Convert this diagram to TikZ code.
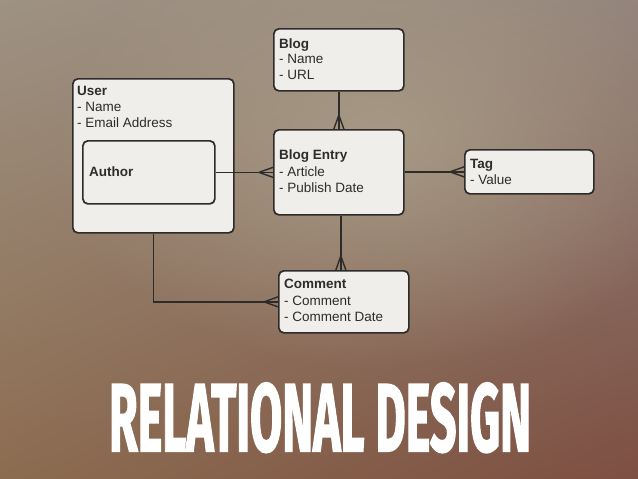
\documentclass[tikz,border=0pt]{standalone}
\usepackage{fontspec}
\setmainfont{Liberation Sans}
\newfontfamily\titlefont{Fira Sans}
\usetikzlibrary{fadings,calc,shadings}
\definecolor{bgUL}{HTML}{9E9283}
\definecolor{bgUR}{HTML}{93847C}
\definecolor{bgLL}{HTML}{8C6C50}
\definecolor{bgLR}{HTML}{7D4F42}
\definecolor{bglight}{HTML}{ACA08A}
\definecolor{boxfill}{HTML}{F0EEEB}
\definecolor{ink}{HTML}{2E2C2A}
\tikzfading[name=softspot, inner color=transparent!0, outer color=transparent!100]
\begin{document}
\begin{tikzpicture}[x=1pt,y=-1pt,
  ebox/.style={draw=ink, line width=1.7pt, fill=boxfill, rounded corners=5pt, inner sep=0pt, anchor=north west},
  etitle/.style={anchor=base west, inner sep=0pt, text=ink, font=\fontsize{13.5}{16}\selectfont\bfseries},
  eattr/.style={anchor=base west, inner sep=0pt, text=ink, font=\fontsize{13.5}{16}\selectfont},
  link/.style={draw=ink, line width=1.4pt},
  crowL/.pic={\draw[link] (-14,0) -- (0,-5) (-14,0) -- (0,5);},
  crowU/.pic={\draw[link] (0,-14) -- (-5,0) (0,-14) -- (5,0);}
]
\useasboundingbox (0,0) rectangle (638,479);
\shade[upper left=bgUL, upper right=bgUR, lower left=bgLL, lower right=bgLR] (0,0) rectangle (638,479);
\fill[bglight, path fading=softspot, opacity=0.8] (380,140) ellipse (330 and 230);

% boxes
\node[ebox, minimum width=130pt, minimum height=62pt] (blog) at (273,28) {};
\node[ebox, minimum width=161pt, minimum height=154pt] (user) at (72,78) {};
\node[ebox, minimum width=132pt, minimum height=63pt] (author) at (82,140) {};
\node[ebox, minimum width=130pt, minimum height=85pt] (be) at (273,129) {};
\node[ebox, minimum width=129pt, minimum height=44pt] (tag) at (464,149) {};
\node[ebox, minimum width=130pt, minimum height=62pt] (comment) at (278,270) {};

% texts
\node[etitle] (blogT) at (279,48) {Blog};
\node[eattr] (blogA) at (279,63) {- Name};
\node[eattr] (blogB) at (279,79) {- URL};

\node[etitle] (userT) at (77,95) {User};
\node[eattr] (userA) at (77,111) {- Name};
\node[eattr] (userB) at (77,127) {- Email Address};

\node[etitle] (authorT) at (89,176) {Author};

\node[etitle] (beT) at (279,159) {Blog Entry};
\node[eattr] (beA) at (279,176) {- Article};
\node[eattr] (beB) at (279,192) {- Publish Date};

\node[etitle] (tagT) at (470,168) {Tag};
\node[eattr] (tagA) at (470,184) {- Value};

\node[etitle] (comT) at (284,288) {Comment};
\node[eattr] (comA) at (284,305) {- Comment};
\node[eattr] (comB) at (284,321) {- Comment Date};

% connectors
\draw[link] (blog.south) -- (be.north);
\pic at (be.north) {crowU};
\draw[link] (author.east) -- (be.west);
\pic at (be.west) {crowL};
\draw[link] (be.east |- tag.west) -- (tag.west);
\pic at (tag.west) {crowL};
\coordinate (bes) at ([xshift=2pt]be.south);
\coordinate (comn) at (bes |- comment.north);
\draw[link] (bes) -- (comn);
\pic at (comn) {crowU};
\draw[link] (user.south) |- (comment.west);
\pic at (comment.west) {crowL};

% title
\node[text=white, inner sep=0pt, anchor=base, xscale=0.485,
  font=\titlefont\bfseries\fontsize{96}{96}\selectfont] (title) at (320,451)
  {\special{pdf:literal direct 2 Tr 2 w}RELATIONAL DESIGN\special{pdf:literal direct 0 Tr}};
\end{tikzpicture}
\end{document}
